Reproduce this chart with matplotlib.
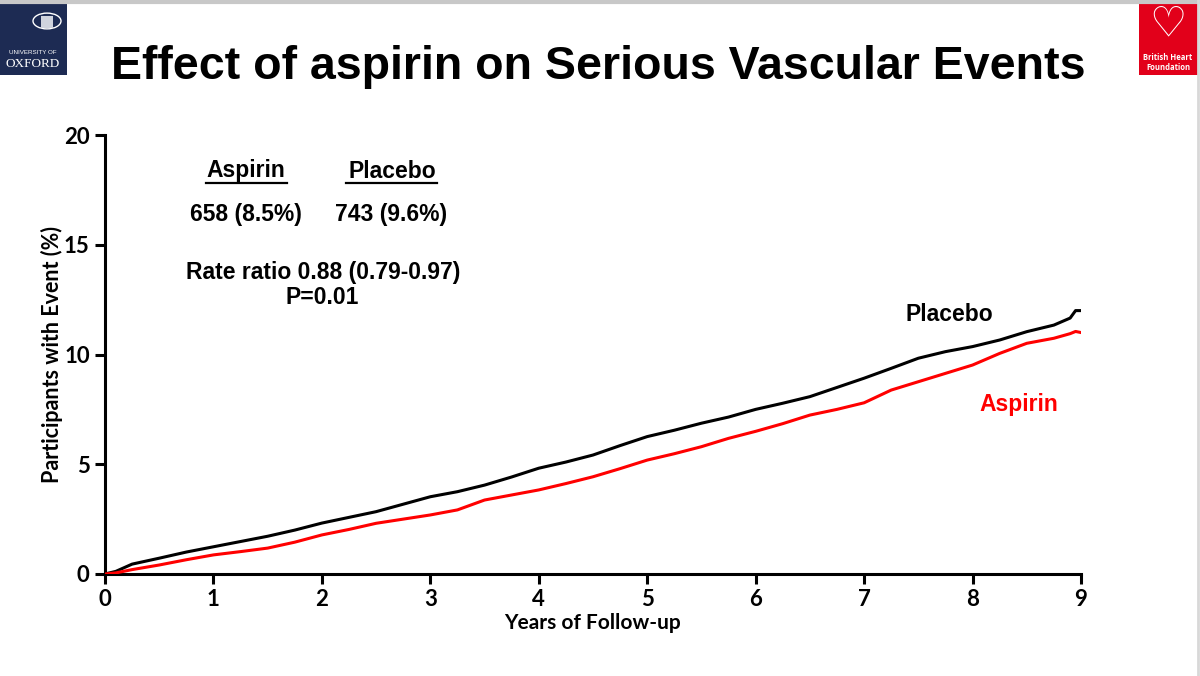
import matplotlib.pyplot as plt
from matplotlib.patches import Rectangle, Circle

# data (years, cumulative % with event)
years = [0, 0.1, 0.25, 0.5, 0.75, 1, 1.25, 1.5, 1.75, 2, 2.25, 2.5, 2.75, 3,
         3.25, 3.5, 3.75, 4, 4.25, 4.5, 4.75, 5, 5.25, 5.5, 5.75, 6, 6.25,
         6.5, 6.75, 7, 7.25, 7.5, 7.75, 8, 8.25, 8.5, 8.75, 8.9, 8.95, 9]
placebo = [0, 0.12, 0.45, 0.72, 1.0, 1.24, 1.48, 1.72, 2.0, 2.32, 2.58,
           2.84, 3.18, 3.52, 3.75, 4.05, 4.42, 4.82, 5.1, 5.42, 5.85, 6.26,
           6.55, 6.87, 7.15, 7.5, 7.78, 8.08, 8.5, 8.92, 9.37, 9.83, 10.13,
           10.36, 10.66, 11.04, 11.34, 11.66, 12.0, 12.0]
aspirin = [0, 0.05, 0.2, 0.41, 0.65, 0.87, 1.02, 1.18, 1.45, 1.78, 2.03,
           2.31, 2.5, 2.69, 2.92, 3.37, 3.6, 3.83, 4.12, 4.43, 4.8, 5.19,
           5.48, 5.8, 6.18, 6.5, 6.85, 7.24, 7.5, 7.8, 8.38, 8.76, 9.14,
           9.52, 10.05, 10.51, 10.74, 10.95, 11.05, 11.0]
x_ticks = [0, 1, 2, 3, 4, 5, 6, 7, 8, 9]
y_ticks = [0, 5, 10, 15, 20]

fig = plt.figure(figsize=(12, 6.76), dpi=100)
fig.patch.set_facecolor("white")

# slide border
fig.add_artist(plt.Line2D([0, 1], [0.997, 0.997], color="#c8c8c8", lw=3))
fig.add_artist(plt.Line2D([0.998, 0.998], [0, 1], color="#d8d8d8", lw=2))

# Oxford logo
fig.add_artist(Rectangle((0, 1 - 75 / 676), 67 / 1200, 75 / 676,
                         transform=fig.transFigure, color="#1d2b53", lw=0))
fig.add_artist(Circle((47 / 1200, 1 - 21 / 676), 14 / 1200,
                      transform=fig.transFigure, fill=False,
                      ec="white", lw=1))
fig.add_artist(Rectangle((41 / 1200, 1 - 28 / 676), 12 / 1200, 12 / 676,
                         transform=fig.transFigure, color="#cfd3dd", lw=0))
fig.text(33 / 1200, 1 - 53 / 676, "UNIVERSITY OF", color="white",
         fontsize=4.5, ha="center", va="center", family="Liberation Sans")
fig.text(33 / 1200, 1 - 64 / 676, "OXFORD", color="white",
         fontsize=9.5, ha="center", va="center", family="Liberation Serif")

# BHF logo
fig.add_artist(Rectangle((1139 / 1200, 1 - 75 / 676), 59 / 1200, 75 / 676,
                         transform=fig.transFigure, color="#e2001a", lw=0))
fig.text(1168 / 1200, 1 - 24 / 676, "\u2661", color="white", fontsize=30,
         ha="center", va="center", family="DejaVu Sans", fontweight="bold")
fig.text(1168 / 1200, 1 - 58 / 676, "British Heart", color="white",
         fontsize=5.5, ha="center", va="center", family="Open Sans",
         fontweight="bold")
fig.text(1168 / 1200, 1 - 67 / 676, "Foundation", color="white",
         fontsize=5.5, ha="center", va="center", family="Open Sans",
         fontweight="bold")

# title
fig.text(598 / 1200, 1 - 67 / 676,
         "Effect of aspirin on Serious Vascular Events",
         fontsize=33.5, fontweight="bold", family="Liberation Sans",
         ha="center", va="center")

ax = fig.add_axes([105 / 1200, 1 - 574 / 676, 976 / 1200, 439 / 676])
ax.plot(years, placebo, color="black", lw=2.2, zorder=3)
ax.plot(years, aspirin, color="#ff0000", lw=2.2, zorder=4)

ax.set_xlim(0, 9)
ax.set_ylim(0, 20)
ax.set_xticks(x_ticks)
ax.set_yticks(y_ticks)
for s in ["top", "right"]:
    ax.spines[s].set_visible(False)
for s in ["left", "bottom"]:
    ax.spines[s].set_linewidth(2.2)
ax.tick_params(width=2.2, length=7, labelsize=16, pad=4)
for lab in ax.get_xticklabels() + ax.get_yticklabels():
    lab.set_fontweight("bold")
    lab.set_family("Lato")
ax.set_xlabel("Years of Follow-up", fontsize=15, fontweight="bold",
              family="Lato", labelpad=2)
ax.set_ylabel("Participants with Event (%)", fontsize=15.5, fontweight="bold",
              family="Lato", labelpad=1)

tfont = dict(fontsize=16.5, fontweight="bold", family="Liberation Sans",
             ha="center", va="center", transform=fig.transFigure)
fig.text(246 / 1200, 1 - 171 / 676, "Aspirin", **tfont)
fig.text(392 / 1200, 1 - 171 / 676, "Placebo", **tfont)
fig.add_artist(plt.Line2D([206 / 1200, 287 / 1200],
                          [1 - 183 / 676, 1 - 183 / 676], color="black", lw=1.6))
fig.add_artist(plt.Line2D([346 / 1200, 437 / 1200],
                          [1 - 183 / 676, 1 - 183 / 676], color="black", lw=1.6))
fig.text(246 / 1200, 1 - 215 / 676, "658 (8.5%)", **tfont)
fig.text(391 / 1200, 1 - 215 / 676, "743 (9.6%)", **tfont)
fig.text(323 / 1200, 1 - 272 / 676, "Rate ratio 0.88 (0.79-0.97)", **tfont)
fig.text(322 / 1200, 1 - 297 / 676, "P=0.01", **tfont)

ax.text(7.79, 11.8, "Placebo", color="black", fontsize=16.5,
        fontweight="bold", family="Liberation Sans", ha="center", va="center")
ax.text(8.43, 7.7, "Aspirin", color="#ff0000", fontsize=16.5,
        fontweight="bold", family="Liberation Sans", ha="center", va="center")

fig.savefig("out.png", dpi=100, facecolor="white")
